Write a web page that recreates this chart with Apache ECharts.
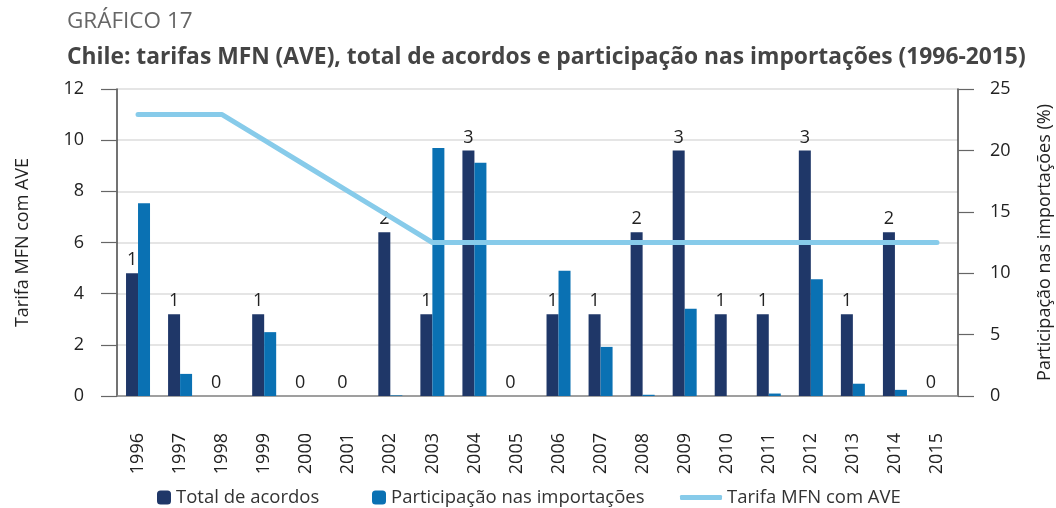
<!DOCTYPE html>
<html>
<head>
<meta charset="utf-8">
<script src="https://cdn.jsdelivr.net/npm/echarts@6/dist/echarts.min.js"></script>
<style>
html, body { margin: 0; padding: 0; background: #fff; }
#chart { width: 1056px; height: 508px; }
</style>
</head>
<body>
<div id="chart"></div>
<script>
var anos = ['1996', '1997', '1998', '1999', '2000', '2001', '2002', '2003', '2004', '2005',
    '2006', '2007', '2008', '2009', '2010', '2011', '2012', '2013', '2014', '2015'];
// altura das barras de acordos (1996 aparece mais alta no original)
var acordos = [1.5, 1, 0, 1, 0, 0, 2, 1, 3, 0, 1, 1, 2, 3, 1, 1, 3, 1, 2, 0];
var rotulosAcordos = ['1', '1', '0', '1', '0', '0', '2', '1', '3', '0', '1', '1', '2', '3', '1', '1', '3', '1', '2', '0'];
var participacao = [15.7, 1.8, 0, 5.2, 0, 0, 0.05, 20.2, 19.0, 0, 10.2, 4.0, 0.1, 7.1, 0, 0.2, 9.5, 1.0, 0.5, 0];
var tarifa = [11, 11, 11, 10, 9, 8, 7, 6, 6, 6, 6, 6, 6, 6, 6, 6, 6, 6, 6, 6];

var fonte = '"Open Sans", "Noto Sans", sans-serif';
var corTexto = '#222';

var legendaBase = {
    bottom: -4,
    itemWidth: 14,
    itemHeight: 14,
    itemGap: 6,
    textStyle: { fontFamily: fonte, fontSize: 18.5, color: '#333' }
};

option = {
    backgroundColor: '#fff',
    textStyle: { fontFamily: fonte },
    title: [{
        text: 'GRÁFICO 17',
        left: 62,
        top: 5,
        textStyle: { fontFamily: fonte, fontSize: 22.5, fontWeight: 'normal', color: '#666' }
    }, {
        text: 'Chile: tarifas MFN (AVE), total de acordos e participação nas importações (1996-2015)',
        left: 62,
        top: 41,
        textStyle: { fontFamily: fonte, fontSize: 22.8, fontWeight: 'bold', color: '#444' }
    }],
    legend: [
        Object.assign({}, legendaBase, { left: 152, data: ['Total de acordos'] }),
        Object.assign({}, legendaBase, { left: 367, data: ['Participação nas importações'] }),
        Object.assign({}, legendaBase, {
            left: 675, itemWidth: 42, itemHeight: 5,
            data: [{ name: 'Tarifa MFN com AVE', icon: 'roundRect' }]
        })
    ],
    grid: { left: 117, right: 98, top: 89, bottom: 112, outerBoundsMode: 'none' },
    xAxis: {
        type: 'category',
        data: anos,
        axisLine: { lineStyle: { color: '#888', width: 1.5 } },
        axisTick: { length: 14, lineStyle: { color: '#666', width: 1.2 } },
        axisLabel: {
            rotate: 90,
            margin: 37,
            fontFamily: fonte,
            fontSize: 18,
            color: corTexto
        }
    },
    yAxis: [{
        type: 'value',
        min: 0,
        max: 12,
        interval: 2,
        name: 'Tarifa MFN com AVE',
        nameLocation: 'middle',
        nameGap: 85,
        nameTextStyle: { fontFamily: fonte, fontSize: 18, color: corTexto },
        axisLine: { show: true, lineStyle: { color: '#444', width: 1.5 } },
        axisTick: { show: true, inside: false, length: 16, lineStyle: { color: '#666', width: 1.2 } },
        axisLabel: { margin: 33, fontFamily: fonte, fontSize: 18, color: corTexto },
        splitLine: { lineStyle: { color: '#dcdcdc', width: 1.5 } }
    }, {
        type: 'value',
        min: 0,
        max: 25,
        interval: 5,
        position: 'right',
        name: 'Participação nas importações (%)',
        nameLocation: 'middle',
        nameGap: 78,
        nameTextStyle: { fontFamily: fonte, fontSize: 18, color: corTexto },
        axisLine: { show: true, lineStyle: { color: '#444', width: 1.5 } },
        axisTick: { show: true, length: 16, lineStyle: { color: '#666', width: 1.2 } },
        axisLabel: { margin: 32, fontFamily: fonte, fontSize: 18, color: corTexto },
        splitLine: { show: false }
    }, {
        type: 'value',
        min: 0,
        max: 3.75,
        show: false
    }],
    series: [{
        name: 'Total de acordos',
        type: 'bar',
        yAxisIndex: 2,
        barWidth: 12,
        barGap: '0%',
        itemStyle: { color: '#1f3768' },
        label: {
            show: true,
            position: 'top',
            distance: 4,
            fontFamily: fonte,
            fontSize: 18,
            color: corTexto,
            formatter: function (p) { return rotulosAcordos[p.dataIndex]; }
        },
        data: acordos
    }, {
        name: 'Participação nas importações',
        type: 'bar',
        yAxisIndex: 1,
        barWidth: 12,
        barGap: '0%',
        itemStyle: { color: '#0a71b3' },
        data: participacao
    }, {
        name: 'Tarifa MFN com AVE',
        type: 'line',
        yAxisIndex: 0,
        symbol: 'none',
        z: 5,
        lineStyle: { color: '#87cbea', width: 5, cap: 'round' },
        itemStyle: { color: '#87cbea' },
        data: tarifa
    }]
};

var myecharts = echarts.init(document.getElementById('chart'));
myecharts.setOption(option);
</script>
</body>
</html>
